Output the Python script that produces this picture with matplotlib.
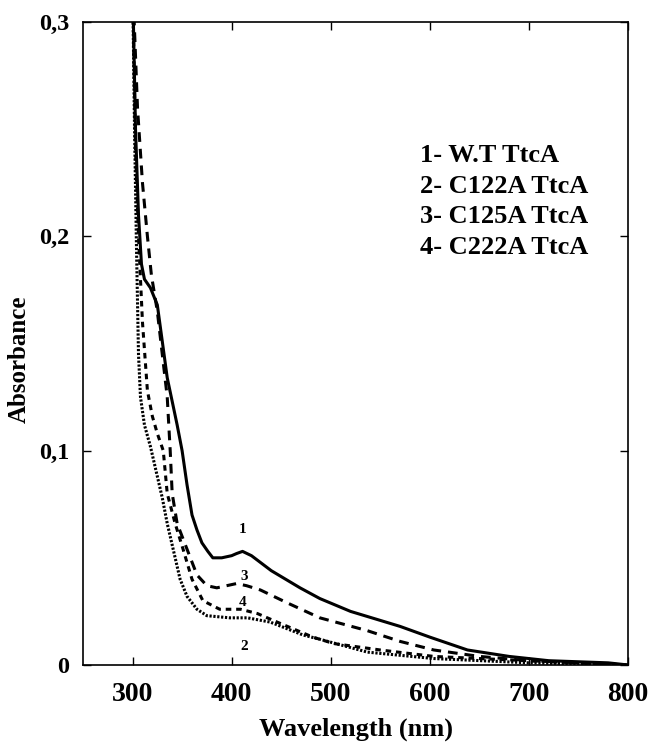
import matplotlib
matplotlib.use("Agg")
import matplotlib.pyplot as plt

plt.rcParams['font.family'] = ['Liberation Serif', 'DejaVu Serif']
plt.rcParams['font.weight'] = 'bold'
plt.rcParams['lines.scale_dashes'] = False

# 1- W.T TtcA (solid)
wl1 = [300, 303, 306, 309, 312, 318, 325, 335, 345, 350, 355, 360, 365, 370, 376, 381,
       390, 400, 405, 411, 420, 440, 469, 489, 520, 570, 600, 638, 680, 720, 780, 800]
abs1 = [0.32, 0.25, 0.21, 0.187, 0.180, 0.176, 0.168, 0.134, 0.112, 0.100, 0.084, 0.070, 0.063, 0.057, 0.053, 0.050,
        0.050, 0.051, 0.052, 0.053, 0.051, 0.044, 0.036, 0.031, 0.025, 0.018, 0.013, 0.007, 0.004, 0.002, 0.001, 0.0]

# 2- C122A TtcA (dotted)
wl2 = [300, 302, 304, 306, 308, 312, 318, 325, 330, 335, 341, 348, 355, 365, 375, 398,
       416, 439, 472, 489, 537, 604, 700, 800]
abs2 = [0.32, 0.25, 0.194, 0.145, 0.125, 0.112, 0.102, 0.088, 0.078, 0.066, 0.054, 0.040, 0.032, 0.026, 0.023, 0.022,
        0.022, 0.020, 0.014, 0.012, 0.006, 0.003, 0.001, 0.0]

# 3- C125A TtcA (long dashes)
wl3 = [300, 305, 310, 315, 319, 325, 330, 335, 338, 340, 345, 355, 365, 375, 385, 395,
       405, 415, 429, 456, 489, 537, 570, 604, 650, 700, 750, 800]
abs3 = [0.32, 0.26, 0.225, 0.20, 0.182, 0.165, 0.145, 0.125, 0.100, 0.080, 0.066, 0.054, 0.042, 0.037, 0.036, 0.037,
        0.038, 0.037, 0.035, 0.029, 0.022, 0.016, 0.011, 0.007, 0.004, 0.002, 0.001, 0.0]

# 4- C222A TtcA (short dashes)
wl4 = [300, 303, 306, 310, 315, 320, 325, 331, 335, 343, 351, 360, 371, 388, 409, 426,
       446, 482, 503, 550, 604, 650, 700, 800]
abs4 = [0.32, 0.24, 0.20, 0.16, 0.128, 0.116, 0.108, 0.100, 0.080, 0.066, 0.054, 0.040, 0.030, 0.026, 0.026, 0.024,
        0.020, 0.013, 0.010, 0.007, 0.004, 0.003, 0.002, 0.0]

legend_lines = ["1- W.T TtcA", "2- C122A TtcA", "3- C125A TtcA", "4- C222A TtcA"]
curve_tags = ["1", "2", "3", "4"]
tag_x = [411, 413, 413, 411]
tag_y = [0.063, 0.0085, 0.0415, 0.029]

fig = plt.figure(figsize=(6.51, 7.43), dpi=100)
ax = fig.add_axes([0.1275, 0.105, 0.8372, 0.8654])

ax.plot(wl1, abs1, color='black', lw=2.2, solid_joinstyle='round')
ax.plot(wl2, abs2, color='black', lw=2.2, linestyle=(0, (1.6, 1.2)))
ax.plot(wl3, abs3, color='black', lw=2.2, linestyle=(0, (7, 5)))
ax.plot(wl4, abs4, color='black', lw=2.2, linestyle=(0, (4, 3.5)))

for t, x, y in zip(curve_tags, tag_x, tag_y):
    ax.text(x, y, t, fontsize=11, fontweight='bold', ha='center', va='center')

for i, s in enumerate(legend_lines):
    ax.text(590, 0.2375 - i * 0.0142, s, fontsize=19, fontweight='bold', ha='left', va='center')

ax.set_xlim(250, 800)
ax.set_ylim(0, 0.3)
ax.set_xticks([300, 400, 500, 600, 700, 800])
ax.set_yticks([0, 0.1, 0.2, 0.3])
ax.set_yticklabels(['0', '0,1', '0,2', '0,3'])
ax.tick_params(direction='in', top=True, right=True, length=6, width=1)
ax.tick_params(axis='x', labelsize=20, pad=12)
ax.tick_params(axis='y', labelsize=17.5, pad=10)
for lab in ax.get_xticklabels() + ax.get_yticklabels():
    lab.set_fontweight('bold')
for sp in ax.spines.values():
    sp.set_linewidth(1.2)

ax.set_xlabel('Wavelength (nm)', fontsize=19, fontweight='bold', labelpad=8)
ax.set_ylabel('Absorbance', fontsize=18, fontweight='bold')
ax.yaxis.set_label_coords(-0.095, 0.475)

fig.savefig('out.png', dpi=100)
